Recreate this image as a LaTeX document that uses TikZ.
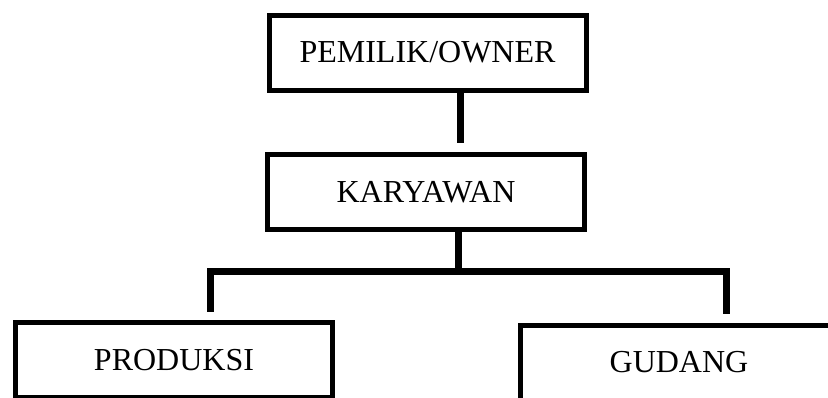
\documentclass[tikz,border=0pt]{standalone}
\usepackage{fontspec}
\setmainfont{Liberation Serif}
\begin{document}
\begin{tikzpicture}[
        x=1pt, y=-1pt,
        unit/.style={draw, rectangle, line width=5pt, minimum width=317pt, minimum height=75pt, align=center, font=\fontsize{32}{38}\selectfont},
        link/.style={line width=7pt}
    ]
        \useasboundingbox[fill=white] (0,0) rectangle (828,397);
        \node[unit] (owner) at (427.5,52.5) {PEMILIK/OWNER};
        \node[unit] (karyawan) at (426,192) {KARYAWAN};
        \node[unit, minimum height=75.5pt] (produksi) at (174,359.75) {PRODUKSI};
        \node[unit] (gudang) at (679,362.5) {GUDANG};
        \coordinate (hub) at (458,271);

        \draw[link, shorten >=9pt] ([xshift=33pt]owner.south) -- ([xshift=33pt]owner.south |- karyawan.north);
        \draw[link] (karyawan.south -| hub) -- (hub);
        \draw[link, shorten >=8pt] (hub) -| ([xshift=36pt]produksi.north);
        \draw[link, shorten >=9pt] (hub) -| ([xshift=47pt]gudang.north);
    \end{tikzpicture}
\end{document}
